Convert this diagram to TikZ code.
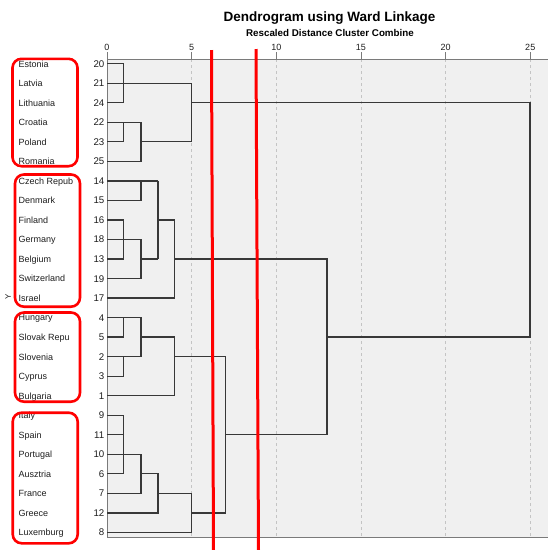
\documentclass[tikz,border=0pt]{standalone}
\usepackage{fontspec}
\setmainfont{Liberation Sans}
\definecolor{bg}{HTML}{F0F0F0}
\definecolor{dline}{HTML}{383838}
\definecolor{gridc}{HTML}{C4C4C4}
\definecolor{axc}{HTML}{7A7A7A}
\definecolor{lab}{HTML}{1E1E1E}
\begin{document}
\begin{tikzpicture}[x=1pt,y=-1pt,
  dend/.style={draw=dline, line width=1.3pt, line join=miter},
  redbox/.style={draw=red, line width=2.6pt, rounded corners=9pt},
  redline/.style={draw=red, line width=3pt},
  gridline/.style={draw=gridc, line width=0.7pt, dash pattern=on 3pt off 3pt},
  countrylab/.style={anchor=base west, inner sep=0pt, text=lab, font=\fontsize{9}{10}\selectfont},
  rownum/.style={anchor=base east, inner sep=0pt, text=lab, font=\fontsize{9.7}{11}\selectfont},
  ticklab/.style={anchor=base, inner sep=0pt, text=lab, font=\fontsize{9}{10}\selectfont},
]
\useasboundingbox[fill=white] (0,0) rectangle (548,550);
% plot area
\fill[bg] (107,59) rectangle (548,537);
\foreach \d in {5,10,...,25} {
  \draw[gridline] ({107+16.93*\d},59) -- ({107+16.93*\d},537);
}
\draw[axc, line width=1pt] (107,59) -- (548,59);
\draw[axc, line width=1pt] (107,52) -- (107,537) -- (548,537);
\foreach \d in {0,5,...,25} {
  \draw[axc, line width=0.8pt] ({107+16.93*\d},52) -- ({107+16.93*\d},59);
  \node[ticklab] (t\d) at ({107+16.93*\d},50) {\d};
}
% titles
\node[anchor=base, inner sep=0pt, font=\bfseries\fontsize{13.5}{15}\selectfont] (title) at (329.5,21.3) {Dendrogram using Ward Linkage};
\node[anchor=base, inner sep=0pt, font=\bfseries\fontsize{9.8}{11}\selectfont] (subtitle) at (330,36) {Rescaled Distance Cluster Combine};
\node[rotate=90, inner sep=0pt, text=lab, font=\fontsize{8}{9}\selectfont] (ylab) at (8,297) {Y};
% rows
\foreach \i/\c/\n in {0/Estonia/20, 1/Latvia/21, 2/Lithuania/24, 3/Croatia/22, 4/Poland/23, 5/Romania/25,
  6/Czech Repub/14, 7/Denmark/15, 8/Finland/16, 9/Germany/18, 10/Belgium/13, 11/Switzerland/19, 12/Israel/17,
  13/Hungary/4, 14/Slovak Repu/5, 15/Slovenia/2, 16/Cyprus/3, 17/Bulgaria/1,
  18/Italy/9, 19/Spain/11, 20/Portugal/10, 21/Ausztria/6, 22/France/7, 23/Greece/12, 24/Luxemburg/8} {
  \coordinate (r\i) at (107,{63.7+19.53*\i});
  \node[countrylab] (c\i) at (18.5,{63.7+19.53*\i+3.4}) {\c};
  \node[rownum] (n\i) at (104.5,{63.7+19.53*\i+3.5}) {\n};
}
% distance levels
\coordinate (D1) at (123.5,0);
\coordinate (D2) at (141,0);
\coordinate (D3) at (158,0);
\coordinate (D4) at (174.5,0);
\coordinate (D5) at (191.7,0);
\coordinate (D7) at (225.5,0);
\coordinate (D13) at (327,0);
\coordinate (D25) at (530,0);
% cluster A
\draw[dend] (r0) -- (r0-|D1) -- (r2-|D1) -- (r2);
\draw[dend] (r1) -- (r1-|D5);
\draw[dend] (r3) -- (r3-|D2);
\draw[dend] (r4) -- (r4-|D1) -- (r3-|D1);
\draw[dend] (r5) -- (r5-|D2) -- (r3-|D2);
\draw[dend] (r4-|D2) -- (r4-|D5) -- (r1-|D5);
\draw[dend] (r2-|D5) -- (r2-|D25) -- (r14-|D25) -- (r14-|D13);
% cluster B
\draw[dend] (r6) -- (r6-|D3);
\draw[dend] (r7) -- (r7-|D2) -- (r6-|D2);
\draw[dend] (r8) -- (r8-|D1) -- (r10-|D1);
\draw[dend] (r10) -- (r10-|D1);
\draw[dend] (r9) -- (r9-|D2) -- (r11-|D2) -- (r11);
\draw[dend] (r10-|D2) -- (r10-|D3);
\draw[dend] (r6-|D3) -- (r10-|D3);
\draw[dend] (r8-|D3) -- (r8-|D4) -- (r12-|D4) -- (r12);
\draw[dend] (r10-|D4) -- (r10-|D13) -- (r19-|D13);
% cluster C
\draw[dend] (r13) -- (r13-|D2) -- (r15-|D2) -- (r15);
\draw[dend] (r14) -- (r14-|D1) -- (r13-|D1);
\draw[dend] (r16) -- (r16-|D1) -- (r15-|D1);
\draw[dend] (r14-|D2) -- (r14-|D4) -- (r17-|D4) -- (r17);
\draw[dend] (r15-|D4) -- (r15-|D7) -- (r23-|D7);
% cluster D
\draw[dend] (r18) -- (r18-|D1) -- (r21-|D1) -- (r21);
\draw[dend] (r19) -- (r19-|D1);
\draw[dend] (r20) -- (r20-|D2) -- (r22-|D2) -- (r22);
\draw[dend] (r21-|D2) -- (r21-|D3) -- (r23-|D3) -- (r23);
\draw[dend] (r22-|D3) -- (r22-|D5) -- (r24-|D5) -- (r24);
\draw[dend] (r23-|D5) -- (r23-|D7);
\draw[dend] (r19-|D7) -- (r19-|D13);
% red marks
\draw[redline] (211.5,50) -- (213.5,550);
\draw[redline] (256,49) -- (258.5,550);
\draw[redbox] (12.5,58.8) rectangle (77.5,166.2);
\draw[redbox] (15,174.5) rectangle (80,306.7);
\draw[redbox] (15,312.5) rectangle (80,401.7);
\draw[redbox] (12.7,412.7) rectangle (77.7,543.3);
\end{tikzpicture}
\end{document}
